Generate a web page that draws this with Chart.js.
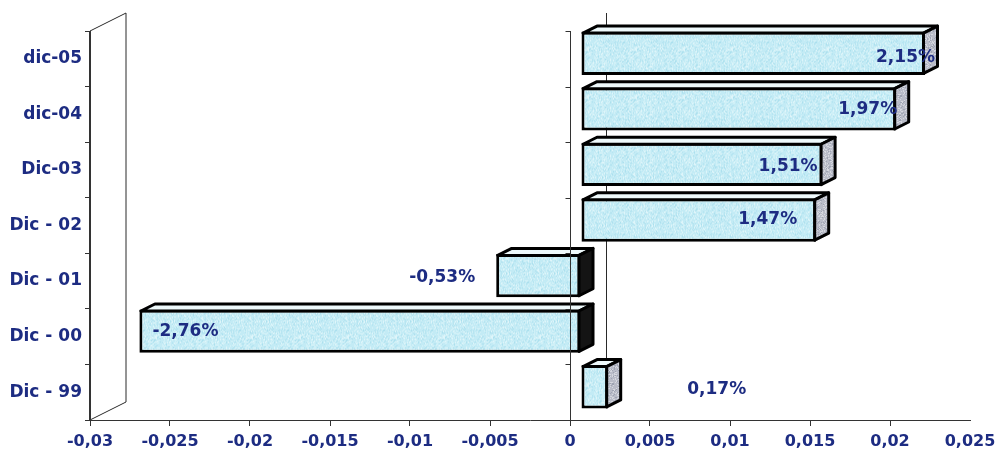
<!DOCTYPE html>
<html><head><meta charset="utf-8">
<script src="https://cdn.jsdelivr.net/npm/chart.js@4/dist/chart.umd.min.js"></script>
<style>html,body{margin:0;padding:0;background:#fff}#wrap{width:1002px;height:458px;position:relative}</style>
</head><body><div id="wrap"><canvas id="c" width="1002" height="458"></canvas></div>
<script>
// ---- data ----
const categories = ['dic-05', 'dic-04', 'Dic-03', 'Dic - 02', 'Dic - 01', 'Dic - 00', 'Dic - 99'];
const values = [0.0215, 0.0197, 0.0151, 0.0147, -0.0053, -0.0276, 0.0017];
const xMin = -0.03, xMax = 0.025, xStep = 0.005;

// ---- style ----
const NAVY = '#1d2c82';
const FONT = 'DejaVu Sans';
const FRONT = {dx: 11, dy: -5.5};     // bar front plane offset
const DEPTH = {dx: 14, dy: -7};       // bar depth
const WALL = {dx: 36, dy: -18};       // full depth of the 3D box
const labelPlacement = [
  {ref: 'end', align: 'right', dx: 10, dy: 4.5},
  {ref: 'end', align: 'right', dx: 1, dy: 1},
  {ref: 'end', align: 'right', dx: -5, dy: 2.5},
  {ref: 'end', align: 'right', dx: -19, dy: 0},
  {ref: 'start', align: 'right', dx: -21, dy: 2},
  {ref: 'start', align: 'left', dx: 13, dy: 0.5},
  {ref: 'end', align: 'left', dx: 79, dy: 3}
];

function fmtNum(v) {
  const r = parseFloat(v.toFixed(4));
  return String(r).replace('.', ',');
}
function fmtPct(v) {
  return (v * 100).toFixed(2).replace('.', ',') + '%';
}

// speckled texture (deterministic hash, purely decorative)
function makePattern(c1, c2, c3) {
  const cv = document.createElement('canvas');
  cv.width = 48; cv.height = 48;
  const g = cv.getContext('2d');
  g.fillStyle = c1; g.fillRect(0, 0, 48, 48);
  for (let yy = 0; yy < 48; yy++) {
    for (let xx = 0; xx < 48; xx++) {
      const h = Math.abs(Math.sin(xx * 12.9898 + yy * 78.233) * 43758.5453) % 1;
      if (h < 0.22) { g.fillStyle = c2; g.fillRect(xx, yy, 1, 1); }
      else if (h > 0.88) { g.fillStyle = c3; g.fillRect(xx, yy, 1, 1); }
    }
  }
  return g.createPattern(cv, 'repeat');
}
const frontFill = makePattern('#c3ebf5', '#def5fa', '#ace0ee');
const sideFill = makePattern('#b9bcc8', '#d6d8df', '#9ea3b2');

const box3d = {
  id: 'box3d',
  beforeDatasetsDraw(chart) {
    const {ctx, chartArea: a, scales: {x}} = chart;
    ctx.save();
    ctx.strokeStyle = '#2a2a2a';
    ctx.lineWidth = 1;
    // left wall
    ctx.beginPath();
    ctx.moveTo(a.left, a.top); ctx.lineTo(a.left + WALL.dx, a.top + WALL.dy);
    ctx.lineTo(a.left + WALL.dx, a.bottom + WALL.dy);
    ctx.lineTo(a.left, a.bottom);
    ctx.stroke();
    // back wall zero line
    const z = x.getPixelForValue(0);
    ctx.beginPath();
    ctx.moveTo(z + WALL.dx + 0.5, a.top + WALL.dy);
    ctx.lineTo(z + WALL.dx + 0.5, a.bottom + WALL.dy);
    ctx.stroke();
    ctx.restore();
    ctx.save();
    ctx.translate(FRONT.dx, FRONT.dy);
  },
  afterDatasetsDraw(chart) {
    const {ctx, chartArea: a, scales: {x, y}} = chart;
    ctx.restore();
    const meta = chart.getDatasetMeta(0);
    ctx.save();
    ctx.lineWidth = 3;
    ctx.lineJoin = 'round';
    ctx.strokeStyle = '#000';
    meta.data.forEach((el, i) => {
      const p = el.getProps(['x', 'y', 'base', 'height'], true);
      const L = Math.min(p.x, p.base) + FRONT.dx + 1.5;
      const R = Math.max(p.x, p.base) + FRONT.dx - 1.5;
      const T = p.y - p.height / 2 + FRONT.dy + 1.5;
      const B = p.y + p.height / 2 + FRONT.dy - 1.5;
      const neg = values[i] < 0;
      // top face
      ctx.beginPath();
      ctx.moveTo(L, T); ctx.lineTo(R, T);
      ctx.lineTo(R + DEPTH.dx, T + DEPTH.dy); ctx.lineTo(L + DEPTH.dx, T + DEPTH.dy);
      ctx.closePath();
      ctx.fillStyle = '#eef9fb';
      ctx.fill(); ctx.stroke();
      // side face
      ctx.beginPath();
      ctx.moveTo(R, T); ctx.lineTo(R + DEPTH.dx, T + DEPTH.dy);
      ctx.lineTo(R + DEPTH.dx, B + DEPTH.dy); ctx.lineTo(R, B);
      ctx.closePath();
      ctx.fillStyle = neg ? '#141414' : sideFill;
      ctx.fill(); ctx.stroke();
    });
    ctx.restore();
    // front-plane category axis at zero
    const z = Math.round(x.getPixelForValue(0)) + 0.5;
    ctx.save();
    ctx.strokeStyle = '#333';
    ctx.lineWidth = 1;
    ctx.beginPath();
    ctx.moveTo(z, a.top); ctx.lineTo(z, a.bottom);
    const n = categories.length;
    const band = (a.bottom - a.top) / n;
    for (let k = 0; k <= n; k++) {
      const yy = Math.round(a.top + k * band) + 0.5;
      ctx.moveTo(z - 5, yy); ctx.lineTo(z, yy);
    }
    ctx.stroke();
    ctx.restore();
    // data labels
    ctx.save();
    ctx.font = 'bold 17px "' + FONT + '"';
    ctx.fillStyle = NAVY;
    ctx.textBaseline = 'middle';
    meta.data.forEach((el, i) => {
      const p = el.getProps(['x', 'y', 'base', 'height'], true);
      const lp = labelPlacement[i];
      const start = Math.min(p.x, p.base) + FRONT.dx;
      const end = Math.max(p.x, p.base) + FRONT.dx;
      const ref = lp.ref === 'end' ? end : start;
      ctx.textAlign = lp.align;
      ctx.fillText(fmtPct(values[i]), ref + lp.dx, p.y + FRONT.dy + lp.dy);
    });
    ctx.restore();
  },
  afterDraw(chart) {
    const {ctx, chartArea: a} = chart;
    ctx.save();
    ctx.fillStyle = '#333';
    ctx.fillRect(Math.round(a.left) - 1, a.top, 2, a.bottom - a.top);
    ctx.restore();
  }
};

new Chart(document.getElementById('c'), {
  type: 'bar',
  data: {
    labels: categories,
    datasets: [{
      data: values,
      backgroundColor: frontFill,
      borderColor: '#000',
      borderWidth: 3,
      borderSkipped: false,
      categoryPercentage: 1,
      barPercentage: 0.78
    }]
  },
  options: {
    indexAxis: 'y',
    responsive: false,
    animation: false,
    devicePixelRatio: 1,
    layout: {padding: {top: 31, right: 32, left: 0, bottom: 0}},
    plugins: {legend: {display: false}, tooltip: {enabled: false}},
    scales: {
      x: {
        min: xMin, max: xMax,
        afterFit(s) { s.height = 38; },
        ticks: {stepSize: xStep, color: NAVY, font: {family: FONT, weight: 'bold', size: 16}, padding: 6,
          callback: v => fmtNum(v), maxRotation: 0, autoSkip: false},
        grid: {drawOnChartArea: false, drawTicks: true, tickLength: 6,
          color: c => (c.tick && c.tick.value >= xMax - 1e-9) ? 'rgba(0,0,0,0)' : '#333'},
        border: {display: true, color: '#333', width: 1}
      },
      y: {
        afterFit(s) { s.width = 90; },
        ticks: {color: NAVY, font: {family: FONT, weight: 'bold', size: 17}, padding: 3},
        grid: {offset: true, drawOnChartArea: false, drawTicks: true, tickLength: 5, color: '#333'},
        border: {display: true, color: '#333', width: 1}
      }
    }
  },
  plugins: [box3d]
});
</script>
</body></html>
